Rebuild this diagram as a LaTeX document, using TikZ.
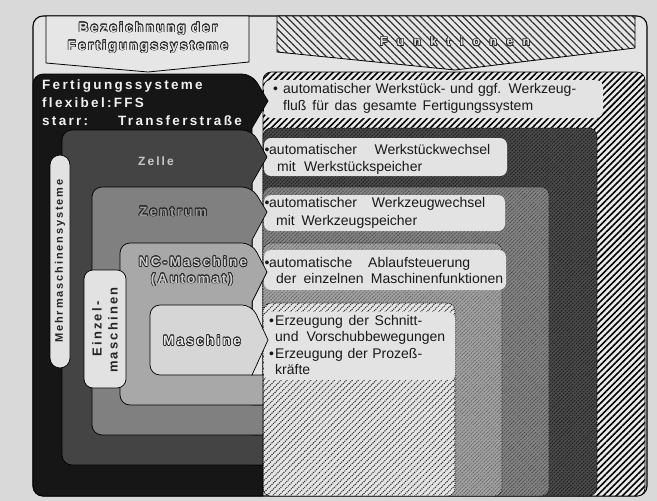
\documentclass[tikz,border=0pt]{standalone}
\usepackage{fontspec}
\setmainfont{Liberation Sans}
\newfontfamily\bodyfont{Liberation Sans}
\newfontfamily\spfont[LetterSpace=17]{Liberation Sans Bold}
\newfontfamily\widefont[LetterSpace=79]{Liberation Sans Bold}
\usepackage[copies]{contour}
\contourlength{0.7pt}
\usetikzlibrary{patterns.meta}
\definecolor{paper}{HTML}{D9D9D9}
\definecolor{innerc}{HTML}{E4E4E4}
\definecolor{hdr}{HTML}{E6E6E6}
\definecolor{lvA}{HTML}{161616}
\definecolor{lvB}{HTML}{444444}
\definecolor{lvC}{HTML}{808080}
\definecolor{lvD}{HTML}{A8A8A8}
\definecolor{lvE}{HTML}{D6D6D6}
\definecolor{boxc}{HTML}{E3E3E3}
\definecolor{pillc}{HTML}{E2E2E2}
\tikzset{
  lvl/.style={draw=black, line width=0.7pt},
  rcol/.style={draw=black, line width=0.6pt, rounded corners=8pt},
  fbox/.style={fill=boxc, rounded corners=7pt},
  ftxt/.style={inner sep=0pt, anchor=base west, text=black!90, font=\bodyfont\fontsize{14}{16}\selectfont},
  sptxt/.style={inner sep=0pt, font=\spfont\fontsize{13.5}{15}\selectfont},
  pilltxt/.style={inner sep=0pt, rotate=90, font=\spfont\fontsize{11}{12}\selectfont, text=black!85},
}
\newcommand\outl[2]{\contour{black!85}{\textcolor{#1}{#2}}}
\begin{document}
\begin{tikzpicture}[x=1pt,y=-1pt]
\useasboundingbox (0,0) rectangle (657,501);
\fill[paper] (0,0) rectangle (657,501);
% frame
\draw[fill=innerc, line width=1.1pt, rounded corners=10pt] (33,16) rectangle (647,496);
% headers
\draw[fill=hdr, line width=0.8pt] (46,16) -- (249,16) -- (249,62) -- (148,72) -- (46,63) -- cycle;
\draw[line width=0.8pt, preaction={fill=hdr}, pattern={Lines[angle=-45,distance=5pt,line width=1.2pt]}, pattern color=black!80]
  (277,16) -- (635,16) -- (635,48) -- (455,70) -- (277,52) -- cycle;
\node[sptxt] (h1) at (148,29) {\outl{hdr}{Bezeichnung der}};
\node[sptxt] (h2) at (148,47) {\outl{hdr}{Fertigungssysteme}};
\node[inner sep=0pt, font=\widefont\fontsize{12}{13}\selectfont] (h3) at (455,42) {\outl{hdr}{Funktionen}};
% right column levels
\draw[rcol, preaction={fill=white!92!black}, pattern={Lines[angle=45,distance=4.5pt,line width=1.6pt]}, pattern color=black] (263,72) rectangle (645,496);
\draw[rcol, preaction={fill=black!70}, pattern={Lines[angle=45,distance=2.6pt,line width=0.9pt]}, pattern color=black!90, densely dotted] (263,128) rectangle (597,496);
\draw[rcol, preaction={fill=black!48}, pattern={Lines[angle=45,distance=2.6pt,line width=0.9pt]}, pattern color=black!75, densely dotted] (263,187) rectangle (549,496);
\draw[rcol, preaction={fill=black!36}, pattern={Lines[angle=45,distance=2.6pt,line width=0.9pt]}, pattern color=black!64, densely dotted] (263,243) rectangle (502,496);
\draw[rcol, preaction={fill=white!90!black}, pattern={Lines[angle=45,distance=4.2pt,line width=1.0pt]}, pattern color=black!85, densely dotted] (263,303) rectangle (455,496);
% function boxes
\fill[fbox] (264,80) rectangle (603,118);
\fill[fbox] (264,138) rectangle (507,176);
\fill[fbox] (264,195) rectangle (505,231);
\fill[fbox] (264,250) rectangle (506,290);
\fill[fbox] (264,312) rectangle (455,380);
% function texts
\node[ftxt] (b1) at (273,93) {•};
\node[ftxt] (t1a) at (283,93) {\makebox[293pt][s]{automatischer Werkstück- und ggf. Werkzeug-}};
\node[ftxt] (t1b) at (283,110) {\makebox[250pt][s]{fluß für das gesamte Fertigungssystem}};
\node[ftxt] (b2) at (264.5,154) {•};
\node[ftxt] (t2a) at (269,154) {\makebox[221pt][s]{automatischer Werkstückwechsel}};
\node[ftxt] (t2b) at (277,171) {\makebox[145pt][s]{mit Werkstückspeicher}};
\node[ftxt] (b3) at (264.5,207) {•};
\node[ftxt] (t3a) at (269,207) {\makebox[216pt][s]{automatischer Werkzeugwechsel}};
\node[ftxt] (t3b) at (276,225) {\makebox[141pt][s]{mit Werkzeugspeicher}};
\node[ftxt] (b4) at (264.5,267) {•};
\node[ftxt] (t4a) at (269,267) {\makebox[201pt][s]{automatische Ablaufsteuerung}};
\node[ftxt] (t4b) at (276,283) {\makebox[227pt][s]{der einzelnen Maschinenfunktionen}};
\node[ftxt] (b5) at (269,325) {•};
\node[ftxt] (t5a) at (275,325) {\makebox[147pt][s]{Erzeugung der Schnitt-}};
\node[ftxt] (t5b) at (275,341) {\makebox[170pt][s]{und Vorschubbewegungen}};
\node[ftxt] (b6) at (269,358) {•};
\node[ftxt] (t5c) at (275,358) {\makebox[147pt][s]{Erzeugung der Prozeß-}};
\node[ftxt] (t5d) at (275,374) {kräfte};
% left levels
\draw[lvl, fill=lvA] (252,128) -- (252,465) -- (263,465) -- (263,496) [rounded corners=10pt] -- (33,496) -- (33,74) -- (252,74) [sharp corners] -- (268,101) -- cycle;
\draw[lvl, fill=lvB] (252,183) -- (252,435) -- (263,435) -- (263,465) [rounded corners=10pt] -- (62,465) -- (62,130) -- (252,130) [sharp corners] -- (267,157) -- cycle;
\draw[lvl, fill=lvC] (252,240) -- (252,405) -- (263,405) -- (263,435) [rounded corners=10pt] -- (92,435) -- (92,187) -- (252,187) [sharp corners] -- (267,212) -- cycle;
\draw[lvl, fill=lvD] (252,302) -- (252,375) -- (263,375) -- (263,405) [rounded corners=10pt] -- (120,405) -- (120,243) -- (252,243) [sharp corners] -- (267,272) -- cycle;
\draw[lvl, fill=lvE] (252,375) [rounded corners=10pt] -- (150,375) -- (150,305) -- (252,305) [sharp corners] -- (268,340) -- cycle;
% level texts
\node[sptxt, text=black!6, anchor=west] (f1) at (42,86) {Fertigungssysteme};
\node[sptxt, text=black!6, anchor=west] (f2) at (42,103) {flexibel:FFS};
\node[sptxt, text=black!6, anchor=west] (f3) at (42,121) {starr:};
\node[sptxt, text=black!6, anchor=west] (f4) at (118,121) {Transferstraße};
\node[sptxt, text=black!22, font=\spfont\fontsize{12}{14}\selectfont] (zl) at (156,161) {Zelle};
\node[sptxt] (zt) at (173,212) {\outl{black!40}{Zentrum}};
\node[sptxt] (nc1) at (193,262) {\outl{black!20}{NC-Maschine}};
\node[sptxt] (nc2) at (192,280) {\outl{black!20}{(Automat)}};
\node[sptxt] (ms) at (202,341) {\outl{black!8}{Maschine}};
% pills
\draw[fill=pillc, line width=0.7pt, rounded corners=10pt] (50,155) rectangle (70,368);
\node[pilltxt] (p1) at (60,261) {Mehrmaschinensysteme};
\draw[fill=pillc, line width=0.7pt, rounded corners=9pt] (84,270) rectangle (126,388);
\node[pilltxt, font=\spfont\fontsize{13}{14}\selectfont] (p2) at (97,329) {Einzel-};
\node[pilltxt, font=\spfont\fontsize{13}{14}\selectfont] (p3) at (113,330) {maschinen};
\end{tikzpicture}
\end{document}
